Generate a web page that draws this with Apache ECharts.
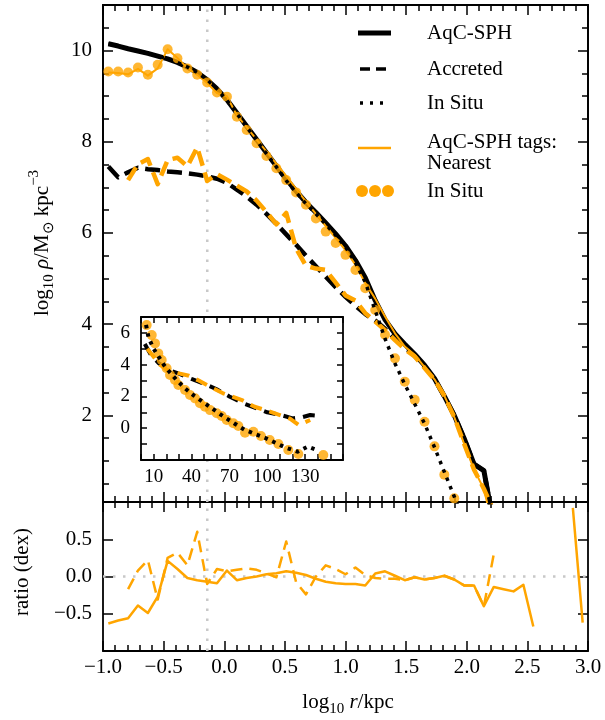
<!DOCTYPE html>
<html><head><meta charset="utf-8">
<script src="https://cdn.jsdelivr.net/npm/echarts@6/dist/echarts.min.js"></script>
<style>html,body{margin:0;padding:0;background:#fff}#c{width:605px;height:720px}</style>
</head><body><div id="c"></div>
<script>
// ---------- data ----------
const logR = [-0.956,-0.875,-0.793,-0.712,-0.630,-0.549,-0.467,-0.386,-0.304,-0.223,-0.141,-0.060,0.022,0.104,0.185,0.267,0.348,0.430,0.511,0.593,0.674,0.756,0.837,0.919,1.000,1.082,1.163,1.245,1.326,1.408,1.489,1.571,1.652,1.734,1.815,1.897,1.978,2.060,2.141,2.223,2.304,2.386,2.467,2.549,2.630,2.712,2.793,2.875,2.956];
const aqTotal = [10.15,10.10,10.04,9.99,9.94,9.88,9.82,9.74,9.64,9.52,9.36,9.16,8.92,8.63,8.34,8.05,7.76,7.47,7.18,6.92,6.67,6.45,6.22,5.98,5.72,5.40,5.02,4.52,4.10,3.79,3.56,3.34,3.10,2.81,2.42,2.00,1.50,0.93,0.79,-0.40];
const aqAccreted = [7.46,7.22,7.33,7.43,7.40,7.38,7.35,7.33,7.31,7.28,7.24,7.19,7.10,6.95,6.80,6.62,6.42,6.20,5.97,5.74,5.50,5.27,5.04,4.81,4.60,4.40,4.22,4.08,3.90,3.68,3.50,3.30,3.08,2.80,2.42,2.00,1.50,0.93,0.79,-0.40];
const aqInSitu = [10.15,10.10,10.04,9.99,9.94,9.88,9.82,9.74,9.64,9.52,9.36,9.16,8.91,8.62,8.33,8.03,7.74,7.45,7.15,6.89,6.64,6.42,6.19,5.95,5.69,5.35,4.92,4.30,3.68,3.14,2.68,2.25,1.82,1.30,0.76,0.22,-0.35];
const tagTotal = [9.52,9.51,9.48,9.60,9.45,9.61,10.03,9.84,9.62,9.47,9.29,9.07,9.00,8.58,8.32,8.05,7.79,7.52,7.25,6.97,6.69,6.42,6.15,5.89,5.62,5.30,4.90,4.56,4.17,3.80,3.51,3.33,3.06,2.79,2.43,1.96,1.38,0.81,0.39,-0.54];
const tagAccreted = [null,null,7.16,7.51,7.62,7.07,7.60,7.65,7.46,7.88,7.14,7.29,7.17,7.04,6.91,6.71,6.46,6.19,6.44,5.66,5.28,5.22,5.19,4.91,4.63,4.52,4.24,4.06,3.87,3.65,3.45,3.29,3.04,2.78,2.43,1.96,1.38,0.81,0.39,-0.10];
const tagInSitu = [9.54,9.54,9.52,9.63,9.47,9.69,10.03,9.83,9.61,9.47,9.30,9.08,8.99,8.55,8.26,7.97,7.69,7.42,7.16,6.89,6.62,6.32,6.03,5.78,5.52,5.19,4.79,4.31,3.77,3.25,2.74,2.34,1.86,1.32,0.70,0.18];
const ratioTotal = [-0.63,-0.59,-0.56,-0.39,-0.49,-0.27,0.21,0.10,-0.02,-0.05,-0.07,-0.09,0.08,-0.05,-0.02,0.00,0.03,0.045,0.07,0.05,0.02,-0.03,-0.07,-0.09,-0.10,-0.10,-0.12,0.04,0.07,0.01,-0.05,-0.01,-0.04,-0.02,0.01,-0.04,-0.12,-0.12,-0.40,-0.14,-0.17,-0.20,-0.11,-0.67,null,null,null,0.92,-0.62];
const ratioAccreted = [null,null,-0.17,0.08,0.22,-0.31,0.25,0.32,0.15,0.60,-0.10,0.10,0.07,0.09,0.11,0.09,0.04,-0.01,0.47,-0.08,-0.24,0.00,0.15,0.10,0.03,0.12,0.02,-0.02,-0.03,-0.03,-0.05,-0.01,-0.04,-0.02,0.01,-0.04,-0.12,-0.12,-0.40,0.30];
const refLogR = -0.14;

// inset: linear radius (kpc)
const insetAccR = [3,8,14,22,30,40,50,60,70,80,90,100,110,120,128,134,142];
const insetAccY = [5.3,4.6,4.1,3.66,3.43,3.1,2.8,2.45,2.0,1.6,1.3,1.0,0.85,0.62,0.7,0.83,0.77];
const insetSituR = [4,6,10,14,18,22,28,35,42,50,58,66,74,82,90,98,106,114,124,132,140];
const insetSituY = [6.5,5.7,5.0,4.5,4.0,3.6,3.05,2.5,2.05,1.6,1.15,0.7,0.3,-0.1,-0.35,-0.6,-0.9,-1.2,-1.48,-1.16,-1.4];
const insetTagAccR = [5,10,15,20,30,38,45,55,65,72,80,90,100,110,118,125,134];
const insetTagAccY = [5.0,4.5,4.0,3.7,3.45,3.3,3.03,2.6,2.2,2.0,1.77,1.35,1.1,0.83,0.6,0.2,0.52];
const insetTagSituR = [4.5,8.5,11.1,13.7,16.4,20.3,23,26.9,29.6,34.9,38.8,42.8,46.7,50.7,54.7,60,63.9,67.9,73.1,77.1,82.4,89,95,102,108.8,116.7,124.6,144.4];
const insetTagSituY = [6.49,5.86,5.34,4.71,4.29,3.77,3.35,3.03,2.72,2.40,2.09,1.88,1.57,1.35,1.14,0.94,0.77,0.52,0.31,0.14,-0.28,-0.22,-0.49,-0.74,-0.99,-1.37,-1.62,-1.69];

// ticks
const mainYMajor = [2,4,6,8,10];
const mainYMinor = [0.5,1,1.5,2,2.5,3,3.5,4,4.5,5,5.5,6,6.5,7,7.5,8,8.5,9,9.5,10,10.5];
const insetXLabels = [10,40,70,100,130];
const insetYLabels = [0,2,4,6];

// ---------- chart ----------
const FONT = 'Liberation Serif';
const ORANGE = '#FFA500';
const GRAY = '#c8c8c8';
const pairs = (xs, ys) => ys.map((y, i) => [xs[i], y == null ? '-' : y]);
const pts = (xs, ys) => ys.map((y, i) => [xs[i], y]).filter(p => p[1] != null);

const axLine = {show: true, onZero: false, lineStyle: {color: '#000', width: 1.8}};
const tickIn = (len, extra) => Object.assign({show: true, inside: true, length: len, lineStyle: {color: '#000', width: 1.5}}, extra || {});
const noLabel = {show: false};
const labelStyle = {color: '#000', fontFamily: FONT, fontSize: 21};

function mainX(grid, pos, showLabels) {
  return {
    type: 'value', gridIndex: grid, position: pos, min: -1, max: 3, interval: 0.5,
    axisLine: axLine, axisTick: tickIn(10),
    minorTick: {show: true, splitNumber: 5, length: 6, lineStyle: {color: '#000', width: 1.5}},
    splitLine: {show: false}, minorSplitLine: {show: false},
    axisLabel: showLabels ? Object.assign({show: true, margin: 6, formatter: v => v.toFixed(1).replace('-', '\u2212')}, labelStyle) : noLabel
  };
}
function mainY(pos, values, len, showLabels) {
  return {
    type: 'value', gridIndex: 0, position: pos, min: 0.1, max: 11,
    axisLine: axLine, axisTick: tickIn(len, {customValues: values}),
    splitLine: {show: false},
    axisLabel: showLabels ? Object.assign({show: true, margin: 11, customValues: values, formatter: v => String(v)}, labelStyle) : noLabel
  };
}
function ratioY(pos, showLabels) {
  return {
    type: 'value', gridIndex: 1, position: pos, min: -1, max: 1, interval: 0.5,
    axisLine: axLine, axisTick: tickIn(10), splitLine: {show: false},
    axisLabel: showLabels ? Object.assign({show: true, margin: 11, showMinLabel: false, showMaxLabel: false,
      formatter: v => v.toFixed(1).replace('-', '\u2212')}, labelStyle) : noLabel
  };
}
function insetX(pos, showLabels) {
  return {
    type: 'value', gridIndex: 2, position: pos, min: 0, max: 160, interval: 10, z: 4,
    axisLine: axLine, axisTick: tickIn(6), splitLine: {show: false},
    axisLabel: showLabels ? {show: true, margin: 8, color: '#000', fontFamily: FONT, fontSize: 19,
      formatter: v => insetXLabels.indexOf(v) >= 0 ? String(v) : ''} : noLabel
  };
}
function insetY(pos, showLabels) {
  return {
    type: 'value', gridIndex: 2, position: pos, min: -2, max: 7, interval: 1, z: 4,
    axisLine: axLine, axisTick: tickIn(6), splitLine: {show: false},
    axisLabel: showLabels ? {show: true, margin: 11, color: '#000', fontFamily: FONT, fontSize: 19,
      formatter: v => insetYLabels.indexOf(v) >= 0 ? String(v) : ''} : noLabel
  };
}

function line(name, data, xi, yi, color, width, type, z) {
  return {
    name, type: 'line', xAxisIndex: xi, yAxisIndex: yi, data, z,
    showSymbol: false, symbol: 'none', connectNulls: false, clip: true, animation: false,
    lineStyle: {color, width, type: type || 'solid', cap: 'butt', join: 'round'}
  };
}
function dots(name, data, xi, yi, size, z) {
  return {
    name, type: 'scatter', xAxisIndex: xi, yAxisIndex: yi, data, z, clip: true, animation: false,
    symbol: 'circle', symbolSize: size, itemStyle: {color: ORANGE}
  };
}

const rich = {
  n: {fontFamily: FONT, fontSize: 21, lineHeight: 30, fill: '#000', color: '#000'},
  i: {fontFamily: FONT, fontSize: 21, fontStyle: 'italic', lineHeight: 30, color: '#000'},
  s: {fontFamily: FONT, fontSize: 15, lineHeight: 17, verticalAlign: 'bottom', color: '#000'},
  p: {fontFamily: FONT, fontSize: 15, lineHeight: 17, verticalAlign: 'top', color: '#000'}
};

const legendX1 = 358, legendX2 = 391, legendTX = 427;
const graphic = [
  {type: 'text', x: 42, y: 243, rotation: Math.PI / 2, z: 10,
   style: {text: '{n|log}{s|10}{n| }{i|\u03c1}{n|/M}{s|\u2299}{n| kpc}{p|\u22123}', rich, align: 'center', verticalAlign: 'middle'}},
  {type: 'text', x: 22, y: 572, rotation: Math.PI / 2, z: 10,
   style: {text: 'ratio (dex)', fontFamily: FONT, fontSize: 21, fill: '#000', align: 'center', verticalAlign: 'middle'}},
  {type: 'text', x: 348, y: 702, z: 10,
   style: {text: '{n|log}{s|10}{n| }{i|r}{n|/kpc}', rich, align: 'center', verticalAlign: 'middle'}},
  // legend
  {type: 'line', z: 10, shape: {x1: legendX1, y1: 33, x2: legendX2, y2: 33}, style: {stroke: '#000', lineWidth: 5}},
  {type: 'line', z: 10, shape: {x1: 360, y1: 69, x2: 386, y2: 69}, style: {stroke: '#000', lineWidth: 3.5, lineDash: [10, 6]}},
  {type: 'line', z: 10, shape: {x1: 360, y1: 103, x2: 386, y2: 103}, style: {stroke: '#000', lineWidth: 3.5, lineDash: [3, 7]}},
  {type: 'line', z: 10, shape: {x1: legendX1, y1: 148, x2: legendX2, y2: 148}, style: {stroke: ORANGE, lineWidth: 2.5}},
  {type: 'circle', z: 10, shape: {cx: 362, cy: 191, r: 6}, style: {fill: ORANGE}},
  {type: 'circle', z: 10, shape: {cx: 375, cy: 191, r: 6}, style: {fill: ORANGE}},
  {type: 'circle', z: 10, shape: {cx: 388, cy: 191, r: 6}, style: {fill: ORANGE}},
  {type: 'text', z: 10, x: legendTX, y: 33, style: {text: 'AqC-SPH', fontFamily: FONT, fontSize: 21, fill: '#000', verticalAlign: 'middle'}},
  {type: 'text', z: 10, x: legendTX, y: 69, style: {text: 'Accreted', fontFamily: FONT, fontSize: 21, fill: '#000', verticalAlign: 'middle'}},
  {type: 'text', z: 10, x: legendTX, y: 103, style: {text: 'In Situ', fontFamily: FONT, fontSize: 21, fill: '#000', verticalAlign: 'middle'}},
  {type: 'text', z: 10, x: legendTX, y: 142, style: {text: 'AqC-SPH tags:', fontFamily: FONT, fontSize: 21, fill: '#000', verticalAlign: 'middle'}},
  {type: 'text', z: 10, x: legendTX, y: 163, style: {text: 'Nearest', fontFamily: FONT, fontSize: 21, fill: '#000', verticalAlign: 'middle'}},
  {type: 'text', z: 10, x: legendTX, y: 191, style: {text: 'In Situ', fontFamily: FONT, fontSize: 21, fill: '#000', verticalAlign: 'middle'}}
];

const option = {
  animation: false,
  backgroundColor: '#fff',
  grid: [
    {left: 103, top: 5, width: 485, height: 497},
    {left: 103, top: 502, width: 485, height: 149},
    {left: 141, top: 317, width: 202, height: 143, show: true, backgroundColor: '#fff', borderWidth: 0, z: 3}
  ],
  xAxis: [
    mainX(0, 'bottom', false), mainX(0, 'top', false),
    mainX(1, 'bottom', true), mainX(1, 'top', false),
    insetX('bottom', true), insetX('top', false)
  ],
  yAxis: [
    mainY('left', mainYMajor, 10, true), mainY('left', mainYMinor, 6, false),
    mainY('right', mainYMajor, 10, false), mainY('right', mainYMinor, 6, false),
    ratioY('left', true), ratioY('right', false),
    insetY('left', true), insetY('right', false)
  ],
  graphic,
  series: [
    // main panel
    line('ref', [[refLogR, 0.1], [refLogR, 11]], 0, 0, GRAY, 2.5, [2.5, 7.5], 1),
    line('AqC-SPH', pairs(logR, aqTotal), 0, 0, '#000', 5, 'solid', 2),
    line('Accreted', pairs(logR, aqAccreted), 0, 0, '#000', 4.5, [15, 7], 3),
    line('Nearest', pairs(logR, tagTotal), 0, 0, ORANGE, 2, 'solid', 4),
    line('Nearest accreted', pts(logR, tagAccreted), 0, 0, ORANGE, 4.5, [15, 7], 5),
    dots('Nearest in situ', pts(logR, tagInSitu), 0, 0, 10, 6),
    line('In Situ', pairs(logR, aqInSitu), 0, 0, '#000', 3.5, [3.5, 5.5], 7),
    // ratio panel
    line('ref2', [[refLogR, -1], [refLogR, 1]], 2, 4, GRAY, 2.5, [2.5, 7.5], 1),
    line('zero', [[-1, 0], [3, 0]], 2, 4, GRAY, 2.5, [2.5, 7.5], 1),
    line('ratio accreted', pts(logR, ratioAccreted), 2, 4, ORANGE, 2.5, [12, 7], 3),
    line('ratio total', pairs(logR, ratioTotal), 2, 4, ORANGE, 2.5, 'solid', 4),
    // inset
    line('inset acc', pts(insetAccR, insetAccY), 4, 6, '#000', 4, [12, 8], 5),
    line('inset tag acc', pts(insetTagAccR, insetTagAccY), 4, 6, ORANGE, 4, [12, 8], 6),
    dots('inset tag situ', pts(insetTagSituR, insetTagSituY), 4, 6, 10, 7),
    line('inset situ', pts(insetSituR, insetSituY), 4, 6, '#000', 4, [3.5, 5], 8)
  ]
};
const chart = echarts.init(document.getElementById('c'), null, {renderer: 'canvas', width: 605, height: 720});
chart.setOption(option);
</script>
</body></html>
